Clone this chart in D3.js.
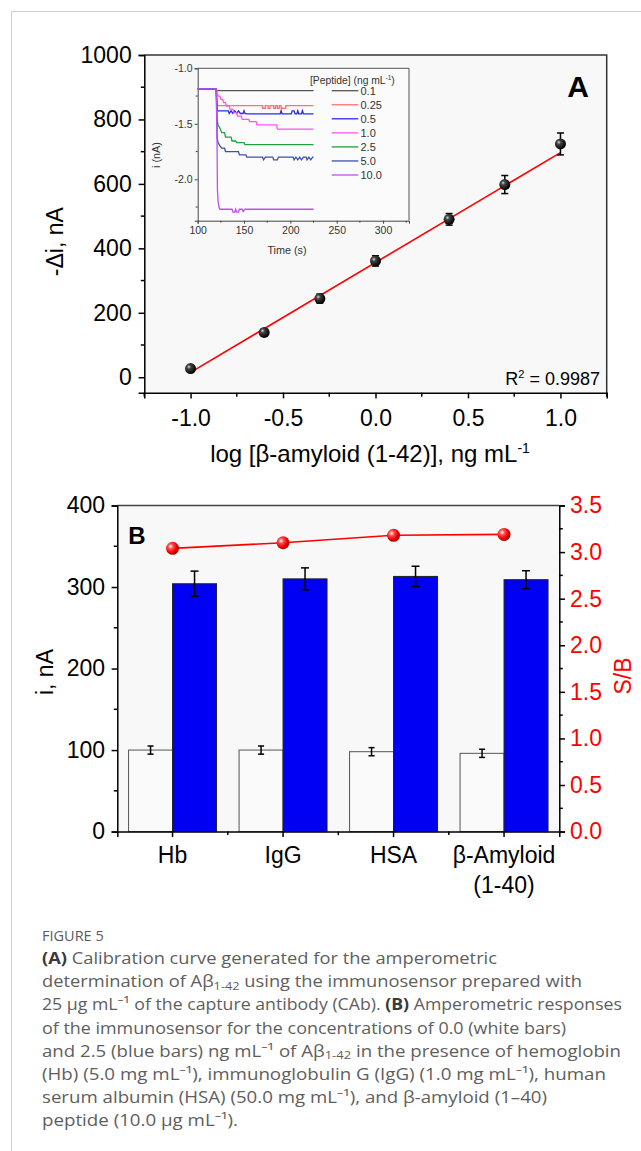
<!DOCTYPE html>
<html><head><meta charset="utf-8">
<script src="https://cdn.jsdelivr.net/npm/d3@7"></script>
<style>
body{margin:0;background:#fff}
svg{display:block}
text{font-family:"Liberation Sans",Arial,Helvetica,sans-serif}
.cap text{font-family:"Open Sans","Noto Sans",sans-serif}
</style>
</head><body>
<svg id="c" width="641" height="1151"></svg>
<script>
// ---------------- DATA ----------------
// Panel A calibration
const logConc = [-1.0, -0.602, -0.301, 0.0, 0.398, 0.699, 1.0];
const deltaI = [27, 139, 244, 361, 490, 598, 724];
const deltaIErr = [8, 10, 14, 16, 18, 28, 34];
const fitSlope = 341, fitIntercept = 356;
const r2Value = "0.9987";
const xTicksA = [-1.0, -0.5, 0.0, 0.5, 1.0];
const xMinorA = [-1.25, -0.75, -0.25, 0.25, 0.75, 1.25];
const yTicksA = [0, 200, 400, 600, 800, 1000];
const yMinorA = [100, 300, 500, 700, 900];

// Inset amperograms: [time s, current nA]
const peptideLevels = ["0.1", "0.25", "0.5", "1.0", "2.5", "5.0", "10.0"];
const trace01 = [[100,-1.185],[120,-1.185],[120.5,-1.202],[225,-1.202]];
const trace025 = [[100,-1.185],[120,-1.185],[121,-1.337],[170,-1.337],[170,-1.36],[173,-1.36],[173,-1.337],[176,-1.337],[176,-1.36],[178,-1.36],[178,-1.337],[182,-1.337],[182,-1.36],[184,-1.36],[184,-1.337],[186,-1.337],[186,-1.36],[188,-1.36],[188,-1.337],[190,-1.337],[190,-1.36],[195,-1.36],[195,-1.337],[225,-1.337]];
const trace05 = [[100,-1.185],[120,-1.185],[121,-1.383],[133,-1.383],[134,-1.407],[136,-1.383],[138,-1.407],[140,-1.383],[142,-1.407],[144,-1.383],[146,-1.407],[149,-1.407],[150,-1.383],[151,-1.407],[153,-1.41],[189,-1.41],[190,-1.383],[191,-1.41],[201,-1.41],[202,-1.383],[204,-1.383],[205,-1.41],[207,-1.41],[208,-1.383],[209,-1.41],[212,-1.41],[213,-1.383],[214,-1.41],[225,-1.41]];
const trace1 = [[100,-1.185],[120,-1.185],[121,-1.22],[122,-1.25],[124,-1.25],[125,-1.28],[127,-1.28],[128,-1.31],[130,-1.31],[131,-1.34],[134,-1.34],[135,-1.37],[138,-1.37],[139,-1.40],[142,-1.40],[143,-1.43],[147,-1.43],[148,-1.46],[155,-1.46],[156,-1.48],[163,-1.48],[164,-1.51],[185,-1.51],[186,-1.548],[225,-1.548]];
const trace25 = [[100,-1.185],[120,-1.185],[121,-1.47],[122,-1.51],[124,-1.54],[126,-1.58],[129,-1.58],[130,-1.62],[136,-1.62],[137,-1.655],[141,-1.655],[142,-1.67],[150,-1.67],[151,-1.688],[225,-1.688]];
const trace5 = [[100,-1.185],[120,-1.185],[121,-1.63],[122,-1.67],[124,-1.70],[126,-1.72],[129,-1.72],[130,-1.75],[144,-1.75],[145,-1.78],[152,-1.78],[153,-1.80],[170,-1.80],[171,-1.825],[173,-1.80],[181,-1.80],[182,-1.825],[186,-1.825],[187,-1.80],[203,-1.80],[204,-1.825],[206,-1.80],[208,-1.825],[210,-1.80],[212,-1.825],[214,-1.80],[217,-1.80],[218,-1.825],[220,-1.80],[222,-1.825],[224,-1.80],[225,-1.80]];
const trace10 = [[100,-1.185],[120,-1.185],[120.8,-1.6],[121.3,-2.1],[122,-2.2],[123,-2.25],[124,-2.27],[137,-2.27],[138,-2.295],[140,-2.295],[141,-2.27],[142,-2.295],[144,-2.295],[145,-2.27],[148,-2.27],[149,-2.29],[151,-2.27],[225,-2.27]];
const insetTraces = [trace01, trace025, trace05, trace1, trace25, trace5, trace10];
const insetColors = ["#555555", "#ff7272", "#2a2aee", "#ff55ee", "#20a040", "#4050a8", "#c050f0"];
const insetXTicks = [100, 150, 200, 250, 300];
const insetYTicks = [-1.0, -1.5, -2.0];

// Panel B selectivity
const categories = ["Hb", "IgG", "HSA", "β-Amyloid (1-40)"];
const blankCurrent = [100, 100, 98, 96];
const blankErr = [5, 5, 5, 5];
const peptideCurrent = [304, 310, 313, 309];
const peptideErr = [15.5, 13.5, 12.5, 11];
const signalToBlank = [3.04, 3.10, 3.18, 3.19];
const yTicksB = [0, 100, 200, 300, 400];
const yMinorB = [50, 150, 250, 350];
const y2TicksB = [0, 0.5, 1.0, 1.5, 2.0, 2.5, 3.0, 3.5];
const y2MinorB = [0.25, 0.75, 1.25, 1.75, 2.25, 2.75, 3.25];

// Caption
const captionTitle = "FIGURE 5";
const captionLines = [
  "**(A)** Calibration curve generated for the amperometric",
  "determination of Aβ_{1-42} using the immunosensor prepared with",
  "25 µg mL⁻¹ of the capture antibody (CAb). **(B)** Amperometric responses",
  "of the immunosensor for the concentrations of 0.0 (white bars)",
  "and 2.5 (blue bars) ng mL⁻¹ of Aβ_{1-42} in the presence of hemoglobin",
  "(Hb) (5.0 mg mL⁻¹), immunoglobulin G (IgG) (1.0 mg mL⁻¹), human",
  "serum albumin (HSA) (50.0 mg mL⁻¹), and β-amyloid (1–40)",
  "peptide (10.0 µg mL⁻¹)."
];
const captionEnds = [497, 582, 622, 566, 621, 606, 547, 238];

// ---------------- DRAW ----------------
const svg = d3.select("#c");
const fmt1 = d => d.toFixed(1);
const defs = svg.append("defs");
const gb = defs.append("radialGradient").attr("id","ballK").attr("cx","35%").attr("cy","35%").attr("r","65%");
gb.append("stop").attr("offset","0").attr("stop-color","#d8d8d8");
gb.append("stop").attr("offset","0.28").attr("stop-color","#444");
gb.append("stop").attr("offset","1").attr("stop-color","#000");
const gr = defs.append("radialGradient").attr("id","ballR").attr("cx","35%").attr("cy","35%").attr("r","65%");
gr.append("stop").attr("offset","0").attr("stop-color","#fff");
gr.append("stop").attr("offset","0.3").attr("stop-color","#ff5050");
gr.append("stop").attr("offset","0.7").attr("stop-color","#f00000");
gr.append("stop").attr("offset","1").attr("stop-color","#b00000");

// page frame
svg.append("line").attr("x1",11.5).attr("x2",11.5).attr("y1",11).attr("y2",1151).attr("stroke","#cfcfcf");
svg.append("line").attr("x1",11).attr("x2",641).attr("y1",11.5).attr("y2",11.5).attr("stroke","#cfcfcf");

function styleAxis(g, fs, color){
  g.select(".domain").attr("stroke","#000").attr("stroke-width",1.5);
  g.selectAll(".tick line").attr("stroke","#000").attr("stroke-width",1.5);
  g.selectAll(".tick text").attr("font-size",fs).attr("fill",color||"#000")
    .attr("font-family","Liberation Sans, Arial, sans-serif");
}
function minorTicks(g, scale, vals, orient, len){
  vals.forEach(v=>{
    const p = scale(v);
    if(orient==="left") g.append("line").attr("x1",0).attr("x2",-len).attr("y1",p).attr("y2",p);
    if(orient==="right") g.append("line").attr("x1",0).attr("x2",len).attr("y1",p).attr("y2",p);
    if(orient==="bottom") g.append("line").attr("y1",0).attr("y2",len).attr("x1",p).attr("x2",p);
  });
}

// ===== Panel A =====
const A = {l:144.3, r:606.7, t:55, b:392.7};
const xA = d3.scaleLinear().domain([-1.25,1.25]).range([A.l, A.r]);
const yA = d3.scaleLinear().domain([-48,1000]).range([A.b, A.t]);
const gA = svg.append("g");
gA.append("rect").attr("x",A.l).attr("y",A.t).attr("width",A.r-A.l).attr("height",A.b-A.t).attr("fill","#f8f8f8");
gA.append("path").attr("d",`M${A.l},${A.t}H${A.r}V${A.b}`).attr("fill","none").attr("stroke","#333").attr("stroke-width",1.5);

const axAy = gA.append("g").attr("transform",`translate(${A.l},0)`)
  .call(d3.axisLeft(yA).tickValues(yTicksA).tickSize(5.7).tickPadding(6.9).tickFormat(d3.format("d")));
styleAxis(axAy, 23);
const mAy = gA.append("g").attr("transform",`translate(${A.l},0)`).attr("stroke","#000").attr("stroke-width",1.5);
minorTicks(mAy, yA, yMinorA, "left", 3.5);

const axAx = gA.append("g").attr("transform",`translate(0,${A.b})`)
  .call(d3.axisBottom(xA).tickValues(xTicksA).tickSize(5.7).tickPadding(10.9).tickFormat(fmt1));
styleAxis(axAx, 23);
const mAx = gA.append("g").attr("transform",`translate(0,${A.b})`).attr("stroke","#000").attr("stroke-width",1.5);
minorTicks(mAx, xA, xMinorA, "bottom", 4);

// fit line
gA.append("line")
  .attr("x1",xA(-1)).attr("y1",yA(fitIntercept+fitSlope*-1))
  .attr("x2",xA(1)).attr("y2",yA(fitIntercept+fitSlope*1))
  .attr("stroke","#ff0000").attr("stroke-width",1.6);

// error bars + points
const ptsA = logConc.map((x,i)=>({x, y:deltaI[i], e:deltaIErr[i]}));
const eb = gA.append("g").attr("stroke","#000").attr("stroke-width",1.5);
ptsA.forEach(p=>{
  const cx = xA(p.x);
  eb.append("line").attr("x1",cx).attr("x2",cx).attr("y1",yA(p.y-p.e)).attr("y2",yA(p.y+p.e));
  eb.append("line").attr("x1",cx-3.5).attr("x2",cx+3.5).attr("y1",yA(p.y-p.e)).attr("y2",yA(p.y-p.e));
  eb.append("line").attr("x1",cx-3.5).attr("x2",cx+3.5).attr("y1",yA(p.y+p.e)).attr("y2",yA(p.y+p.e));
});
gA.selectAll("circle.pt").data(ptsA).join("circle").attr("class","pt")
  .attr("cx",d=>xA(d.x)).attr("cy",d=>yA(d.y)).attr("r",5.5).attr("fill","url(#ballK)");

// labels
gA.append("text").attr("x",578).attr("y",96.5).attr("text-anchor","middle")
  .attr("font-size",30).attr("font-weight","bold").text("A");
const r2 = gA.append("text").attr("x",600).attr("y",385).attr("text-anchor","end").attr("font-size",18);
r2.append("tspan").text("R");
r2.append("tspan").attr("dy",-7).attr("font-size",11).text("2");
r2.append("tspan").attr("dy",7).text(" = " + r2Value);
const xlA = gA.append("text").attr("x",370).attr("y",461.7).attr("text-anchor","middle").attr("font-size",24);
xlA.append("tspan").text("log [β-amyloid (1-42)], ng mL");
xlA.append("tspan").attr("dy",-9).attr("font-size",14).text("-1");
gA.append("text").attr("transform","translate(55,241.7) rotate(-90)").attr("text-anchor","middle")
  .attr("dy","0.35em").attr("font-size",23).text("-Δi, nA");

// ===== Inset =====
const I = {l:197.7, r:409, t:68.3, b:220.7};
const iX = d3.scaleLinear().domain([100,328]).range([I.l, I.r]);
const iY = d3.scaleLinear().domain([-2.373,-1.0]).range([I.b, I.t]);
const gI = svg.append("g");
gI.append("rect").attr("x",I.l).attr("y",I.t).attr("width",I.r-I.l).attr("height",I.b-I.t).attr("fill","#fbfbfb");
gI.append("path").attr("d",`M${I.l},${I.t}H${I.r}V${I.b}`).attr("fill","none").attr("stroke","#555").attr("stroke-width",1);
const iax = gI.append("g").attr("transform",`translate(${I.l},0)`)
  .call(d3.axisLeft(iY).tickValues(insetYTicks).tickSize(3).tickPadding(2.2).tickFormat(fmt1));
const iax2 = gI.append("g").attr("transform",`translate(0,${I.b})`)
  .call(d3.axisBottom(iX).tickValues(insetXTicks).tickSize(3).tickPadding(3.2).tickFormat(d3.format("d")));
[iax, iax2].forEach(g=>{
  g.select(".domain").attr("stroke","#444").attr("stroke-width",1);
  g.selectAll(".tick line").attr("stroke","#444");
  g.selectAll(".tick text").attr("font-size",10.5).attr("fill","#333");
});
const mi = gI.append("g").attr("stroke","#444");
minorTicks(mi.append("g").attr("transform",`translate(${I.l},0)`), iY, [-1.25,-1.75,-2.25], "left", 2);
minorTicks(mi.append("g").attr("transform",`translate(0,${I.b})`), iX, [125,175,225,275,325], "bottom", 2);

const lineI = d3.line().x(d=>iX(d[0])).y(d=>iY(d[1]));
insetTraces.forEach((tr,k)=>{
  gI.append("path").attr("d",lineI(tr)).attr("fill","none").attr("stroke",insetColors[k]).attr("stroke-width",1.3);
});
// legend
const lt = gI.append("text").attr("x",310).attr("y",83.5).attr("font-size",10.3).attr("fill","#333");
lt.append("tspan").text("[Peptide] (ng mL");
lt.append("tspan").attr("dy",-4).attr("font-size",6.5).text("-1");
lt.append("tspan").attr("dy",4).text(")");
peptideLevels.forEach((lab,k)=>{
  const yy = 90.7 + k*14.05;
  gI.append("line").attr("x1",331.7).attr("x2",358.3).attr("y1",yy).attr("y2",yy)
    .attr("stroke",insetColors[k]).attr("stroke-width",1.3);
  gI.append("text").attr("x",360.5).attr("y",yy+4).attr("font-size",11).attr("fill","#333").text(lab);
});
gI.append("text").attr("x",287).attr("y",254).attr("text-anchor","middle").attr("font-size",10.8).attr("fill","#333").text("Time (s)");
gI.append("text").attr("transform","translate(156.7,155) rotate(-90)").attr("text-anchor","middle")
  .attr("dy","0.35em").attr("font-size",10.8).attr("fill","#333").text("i (nA)");

// ===== Panel B =====
const B = {l:117.3, r:559.3, t:505.5, b:831.6};
const xB = d3.scaleBand().domain(categories).range([B.l, B.r]).paddingInner(0).paddingOuter(0);
const xSub = d3.scaleBand().domain(["blank","peptide"]).range([0, xB.bandwidth()]).paddingInner(0).paddingOuter(0.256);
const yB = d3.scaleLinear().domain([0,400]).range([B.b, B.t]);
const yB2 = d3.scaleLinear().domain([0,3.5]).range([B.b, B.t]);
const gB = svg.append("g");
gB.append("rect").attr("x",B.l).attr("y",B.t).attr("width",B.r-B.l).attr("height",B.b-B.t).attr("fill","#f8f8f8");
gB.append("line").attr("x1",B.l).attr("x2",B.r).attr("y1",B.t).attr("y2",B.t).attr("stroke","#444").attr("stroke-width",1.5);

const barsData = categories.map((c,i)=>({c, blank:blankCurrent[i], be:blankErr[i], pep:peptideCurrent[i], pe:peptideErr[i], sb:signalToBlank[i]}));
gB.selectAll("rect.wb").data(barsData).join("rect").attr("class","wb")
  .attr("x",d=>xB(d.c)+xSub("blank")).attr("width",xSub.bandwidth())
  .attr("y",d=>yB(d.blank)).attr("height",d=>yB(0)-yB(d.blank))
  .attr("fill","#fafafa").attr("stroke","#555").attr("stroke-width",1);
gB.selectAll("rect.bb").data(barsData).join("rect").attr("class","bb")
  .attr("x",d=>xB(d.c)+xSub("peptide")).attr("width",xSub.bandwidth())
  .attr("y",d=>yB(d.pep)).attr("height",d=>yB(0)-yB(d.pep))
  .attr("fill","#0000f2").attr("stroke","#222").attr("stroke-width",1);
const ebB = gB.append("g").attr("stroke","#000").attr("stroke-width",1.5);
barsData.forEach(d=>{
  [[xB(d.c)+xSub("blank")+xSub.bandwidth()/2, d.blank, d.be, 3],
   [xB(d.c)+xSub("peptide")+xSub.bandwidth()/2, d.pep, d.pe, 4]].forEach(([cx,v,e,w])=>{
    ebB.append("line").attr("x1",cx).attr("x2",cx).attr("y1",yB(v-e)).attr("y2",yB(v+e));
    ebB.append("line").attr("x1",cx-w).attr("x2",cx+w).attr("y1",yB(v-e)).attr("y2",yB(v-e));
    ebB.append("line").attr("x1",cx-w).attr("x2",cx+w).attr("y1",yB(v+e)).attr("y2",yB(v+e));
  });
});
const sbLine = d3.line().x(d=>xB(d.c)+xB.bandwidth()/2).y(d=>yB2(d.sb));
gB.append("path").attr("d",sbLine(barsData)).attr("fill","none").attr("stroke","#ff0000").attr("stroke-width",1.6);
gB.selectAll("circle.sb").data(barsData).join("circle").attr("class","sb")
  .attr("cx",d=>xB(d.c)+xB.bandwidth()/2).attr("cy",d=>yB2(d.sb)).attr("r",6.5).attr("fill","url(#ballR)");

const bl = gB.append("g").attr("transform",`translate(${B.l},0)`)
  .call(d3.axisLeft(yB).tickValues(yTicksB).tickSize(5.7).tickPadding(6.6).tickFormat(d3.format("d")));
styleAxis(bl, 23);
minorTicks(gB.append("g").attr("transform",`translate(${B.l},0)`).attr("stroke","#000").attr("stroke-width",1.5), yB, yMinorB, "left", 3.5);
const br = gB.append("g").attr("transform",`translate(${B.r},0)`)
  .call(d3.axisRight(yB2).tickValues(y2TicksB).tickSize(5.7).tickPadding(5).tickFormat(fmt1));
styleAxis(br, 23, "#ff0000");
minorTicks(gB.append("g").attr("transform",`translate(${B.r},0)`).attr("stroke","#000").attr("stroke-width",1.5), yB2, y2MinorB, "right", 3.5);
const bb = gB.append("g").attr("transform",`translate(0,${B.b})`)
  .call(d3.axisBottom(xB).tickSize(5.5).tickFormat(""));
styleAxis(bb, 23);
const bmg = gB.append("g").attr("transform",`translate(0,${B.b})`).attr("stroke","#000").attr("stroke-width",1.5);
categories.slice(1).forEach(c=>bmg.append("line").attr("x1",xB(c)).attr("x2",xB(c)).attr("y1",0).attr("y2",3.5));
categories.forEach(c=>{
  const parts = c.split(/ (?=\()/);
  const cx = xB(c)+xB.bandwidth()/2;
  const t = gB.append("text").attr("x",cx).attr("y",B.b+31.7).attr("text-anchor","middle").attr("font-size",23);
  parts.forEach((p,k)=>t.append("tspan").attr("x",cx).attr("dy",k?30:0).text(p));
});
gB.append("text").attr("x",137).attr("y",543.5).attr("text-anchor","middle").attr("font-size",24).attr("font-weight","bold").text("B");
gB.append("text").attr("transform","translate(45,672) rotate(-90)").attr("text-anchor","middle")
  .attr("dy","0.35em").attr("font-size",23).text("i, nA");
gB.append("text").attr("transform","translate(623,676) rotate(-90)").attr("text-anchor","middle")
  .attr("dy","0.35em").attr("font-size",23).attr("fill","#ff0000").text("S/B");

// ===== Caption =====
const gC = svg.append("g").attr("class","cap");
gC.append("text").attr("x",42).attr("y",941).attr("font-size",14.5).attr("fill","#5a5a5a").text(captionTitle);
captionLines.forEach((line,k)=>{
  const t = gC.append("text").attr("x",42).attr("y",964+k*23.2).attr("font-size",16.5).attr("fill","#5e5e5e")
    .attr("textLength",captionEnds[k]-42).attr("lengthAdjust","spacingAndGlyphs");
  const toks = line.split(/(\*\*[^*]+\*\*|_\{[^}]+\})/).filter(s=>s.length);
  let pendingDy = 0;
  toks.forEach(s=>{
    let ts;
    if(s.startsWith("**")) ts = t.append("tspan").attr("font-weight","bold").attr("fill","#3a3a3a").text(s.slice(2,-2));
    else if(s.startsWith("_{")) { ts = t.append("tspan").attr("font-size",11.5).text(s.slice(2,-1)); ts.attr("dy",pendingDy+2.5); pendingDy = -2.5; return; }
    else ts = t.append("tspan").text(s);
    if(pendingDy){ ts.attr("dy",pendingDy); pendingDy = 0; }
  });
});
</script>
</body></html>
